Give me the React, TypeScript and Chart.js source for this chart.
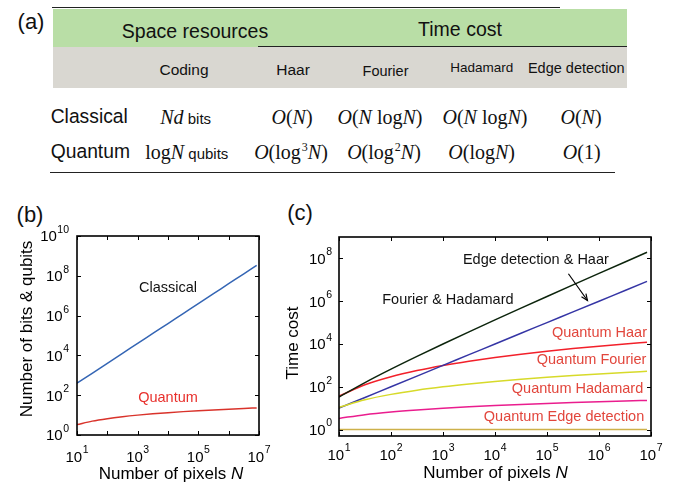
import React, { useEffect, useRef } from 'react';
import { Chart, registerables } from 'chart.js';

Chart.register(...registerables);

// ---------- data ----------
const pixelsN = [10, 31.6, 100, 316, 1000, 3162, 10000, 31623, 100000, 316228, 1000000, 3162278, 8388608];
const classicalBits = [400, 1265, 4000, 12650, 40000, 126500, 400000, 1265000, 4000000, 12650000, 40000000, 126500000, 335500000];
const quantumQubits = [3.32, 4.98, 6.64, 8.3, 9.97, 11.63, 13.29, 14.95, 16.61, 18.27, 19.93, 21.59, 23];

const classicalFourierHadamard = [33.2, 157, 664, 2626, 9966, 36780, 132900, 472800, 1661000, 5778000, 19930000, 68270000, 192900000];
const classicalEdgeHaar = [10, 31.6, 100, 316, 1000, 3162, 10000, 31623, 100000, 316228, 1000000, 3162278, 8388608];
const quantumHaar = [36.6, 123.5, 292.7, 571.8, 991, 1573, 2347, 3341, 4583, 6098, 7916, 10064, 12167];
const quantumFourier = [11, 24.8, 44.1, 68.9, 99.4, 135.3, 176.6, 223.5, 275.9, 333.8, 397.2, 466.1, 529];
const quantumHadamard = [3.32, 4.98, 6.64, 8.3, 9.97, 11.63, 13.29, 14.95, 16.61, 18.27, 19.93, 21.59, 23];
const quantumEdge = [1, 1, 1, 1, 1, 1, 1, 1, 1, 1, 1, 1, 1];

const xTicks = [10, 100, 1e3, 1e4, 1e5, 1e6, 1e7];
const xTickLabelsB = ['10^1', '', '10^3', '', '10^5', '', '10^7'];
const yTicksB = [1, 1e2, 1e4, 1e6, 1e8, 1e10];
const yTickLabelsB = ['10^0', '10^2', '10^4', '10^6', '10^8', '10^10'];
const xTickLabelsC = ['10^1', '10^2', '10^3', '10^4', '10^5', '10^6', '10^7'];
const yTicksC = [1, 1e2, 1e4, 1e6, 1e8];
const yTickLabelsC = ['10^0', '10^2', '10^4', '10^6', '10^8'];

const tableHeaders = ['Space resources', 'Time cost'];
const tableColumns = ['Coding', 'Haar', 'Fourier', 'Hadamard', 'Edge detection'];
const tableRows = ['Classical', 'Quantum'];

const SANS = '"Liberation Sans", Arial, Helvetica, sans-serif';
const SERIF = '"Liberation Serif", "Times New Roman", serif';
const LABEL_RED = '#e2463c';

// annotation text positions (log10 of data coordinates)
const annotationsB = [
  { text: 'Classical', lx: 4.0, ly: 7.37, color: '#111', align: 'center' },
  { text: 'Quantum', lx: 4.0, ly: 1.84, color: '#e8302c', align: 'center' },
];
const annotationsC = [
  { text: 'Edge detection & Haar', lx: 4.786, ly: 7.94, color: '#111', align: 'center' },
  { text: 'Fourier & Hadamard', lx: 3.094, ly: 6.033, color: '#111', align: 'center' },
  { text: 'Quantum Haar', lx: 6.923, ly: 4.535, color: LABEL_RED, align: 'right' },
  { text: 'Quantum Fourier', lx: 6.91, ly: 3.257, color: LABEL_RED, align: 'right' },
  { text: 'Quantum Hadamard', lx: 6.85, ly: 1.885, color: LABEL_RED, align: 'right' },
  { text: 'Quantum Edge detection', lx: 6.87, ly: 0.574, color: LABEL_RED, align: 'right' },
];
const arrowsC = [{ from: [5.412, 7.283], to: [5.778, 6.033] }];

type FrameCfg = {
  annotations: { text: string; lx: number; ly: number; color: string; align: string }[];
  arrows: { from: number[]; to: number[] }[];
  xTitle: { cx: number; cy: number };
  yTitle: { text: string; cx: number; cy: number };
  xLabels: string[];
  yLabels: string[];
  xLabelDrop: number;
  yLabelGap: number;
};

function drawPow(ctx: any, label: string, x: number, baseY: number, align: string) {
  if (!label) return;
  const [b, e] = label.split('^');
  const fb = `15px ${SANS}`;
  const fe = `10.5px ${SANS}`;
  ctx.font = fb;
  const wb = ctx.measureText(b).width;
  ctx.font = fe;
  const we = ctx.measureText(e || '').width;
  const total = wb + we + 0.5;
  const x0 = align === 'center' ? x - total / 2 : x - total;
  ctx.textAlign = 'left';
  ctx.textBaseline = 'alphabetic';
  ctx.fillStyle = '#000';
  ctx.font = fb;
  ctx.fillText(b, x0, baseY);
  if (e) {
    ctx.font = fe;
    ctx.fillText(e, x0 + wb + 0.5, baseY - 8.5);
  }
}

function framePlugin(cfg: FrameCfg) {
  return {
    id: 'frame',
    afterDatasetsDraw(chart: any) {
      const { ctx, chartArea: a, scales } = chart;
      const sx = scales.x;
      const sy = scales.y;
      ctx.save();
      // annotations
      ctx.font = `14.5px ${SANS}`;
      ctx.textBaseline = 'middle';
      for (const t of cfg.annotations) {
        ctx.fillStyle = t.color;
        ctx.textAlign = t.align;
        ctx.fillText(t.text, sx.getPixelForValue(Math.pow(10, t.lx)), sy.getPixelForValue(Math.pow(10, t.ly)));
      }
      // arrows
      ctx.strokeStyle = '#000';
      ctx.lineWidth = 1.2;
      for (const ar of cfg.arrows) {
        const x1 = sx.getPixelForValue(Math.pow(10, ar.from[0]));
        const y1 = sy.getPixelForValue(Math.pow(10, ar.from[1]));
        const x2 = sx.getPixelForValue(Math.pow(10, ar.to[0]));
        const y2 = sy.getPixelForValue(Math.pow(10, ar.to[1]));
        ctx.beginPath();
        ctx.moveTo(x1, y1);
        ctx.lineTo(x2, y2);
        ctx.stroke();
        const ang = Math.atan2(y2 - y1, x2 - x1);
        const L = 7;
        ctx.beginPath();
        ctx.moveTo(x2 - L * Math.cos(ang - 0.4), y2 - L * Math.sin(ang - 0.4));
        ctx.lineTo(x2, y2);
        ctx.lineTo(x2 - L * Math.cos(ang + 0.4), y2 - L * Math.sin(ang + 0.4));
        ctx.stroke();
      }
      // box
      ctx.strokeStyle = '#000';
      ctx.lineWidth = 1.6;
      ctx.strokeRect(a.left, a.top, a.right - a.left, a.bottom - a.top);
      // inward ticks
      ctx.lineWidth = 1;
      const T = 4;
      ctx.beginPath();
      for (const t of sx.ticks) {
        const p = Math.round(sx.getPixelForValue(t.value)) + 0.5;
        ctx.moveTo(p, a.bottom);
        ctx.lineTo(p, a.bottom - T);
        ctx.moveTo(p, a.top);
        ctx.lineTo(p, a.top + T);
      }
      for (const t of sy.ticks) {
        const p = Math.round(sy.getPixelForValue(t.value)) + 0.5;
        ctx.moveTo(a.left, p);
        ctx.lineTo(a.left + T, p);
        ctx.moveTo(a.right, p);
        ctx.lineTo(a.right - T, p);
      }
      ctx.stroke();
      // tick labels with superscript exponents
      sx.ticks.forEach((t: any, i: number) => {
        drawPow(ctx, cfg.xLabels[i], sx.getPixelForValue(t.value), a.bottom + cfg.xLabelDrop, 'center');
      });
      sy.ticks.forEach((t: any, i: number) => {
        drawPow(ctx, cfg.yLabels[i], a.left - cfg.yLabelGap, sy.getPixelForValue(t.value) + 5.4, 'right');
      });
      // x title with italic N
      ctx.fillStyle = '#000';
      ctx.textAlign = 'left';
      ctx.textBaseline = 'middle';
      const normal = `17px ${SANS}`;
      const italic = `italic 17px ${SANS}`;
      ctx.font = normal;
      const part1 = 'Number of pixels ';
      const w1 = ctx.measureText(part1).width;
      ctx.font = italic;
      const w2 = ctx.measureText('N').width;
      const start = cfg.xTitle.cx - (w1 + w2) / 2;
      ctx.font = normal;
      ctx.fillText(part1, start, cfg.xTitle.cy);
      ctx.font = italic;
      ctx.fillText('N', start + w1, cfg.xTitle.cy);
      // y title
      ctx.font = normal;
      ctx.textAlign = 'center';
      ctx.translate(cfg.yTitle.cx, cfg.yTitle.cy);
      ctx.rotate(-Math.PI / 2);
      ctx.fillText(cfg.yTitle.text, 0, 0);
      ctx.restore();
    },
  };
}

function makeConfig(p: {
  datasets: any[];
  yTicks: number[];
  yMin: number;
  yMax: number;
  yWidth: number;
  xHeight: number;
  padding: any;
  frame: FrameCfg;
}): any {
  return {
    type: 'line',
    data: { datasets: p.datasets },
    options: {
      animation: false,
      responsive: false,
      devicePixelRatio: 1,
      layout: { padding: p.padding },
      plugins: { legend: { display: false }, tooltip: { enabled: false } },
      elements: { point: { radius: 0 }, line: { borderWidth: 1.5, cubicInterpolationMode: 'monotone' } },
      scales: {
        x: {
          type: 'logarithmic',
          min: 10,
          max: 1e7,
          bounds: 'data',
          afterBuildTicks: (s: any) => {
            s.ticks = xTicks.map((v) => ({ value: v }));
          },
          afterFit: (s: any) => {
            s.height = p.xHeight;
          },
          grid: { display: false, drawTicks: false },
          border: { display: false },
          ticks: { display: false, autoSkip: false },
        },
        y: {
          type: 'logarithmic',
          min: p.yMin,
          max: p.yMax,
          bounds: 'data',
          afterBuildTicks: (s: any) => {
            s.ticks = p.yTicks.map((v) => ({ value: v }));
          },
          afterFit: (s: any) => {
            s.width = p.yWidth;
          },
          grid: { display: false, drawTicks: false },
          border: { display: false },
          ticks: { display: false, autoSkip: false },
        },
      },
    },
    plugins: [framePlugin(p.frame)],
  };
}

const pts = (ys: number[]) => pixelsN.map((x, i) => ({ x, y: ys[i] }));

function configB() {
  return makeConfig({
    datasets: [
      { label: 'Classical', data: pts(classicalBits), borderColor: '#3465b4' },
      { label: 'Quantum', data: pts(quantumQubits), borderColor: '#d9332b' },
    ],
    yTicks: yTicksB,
    yMin: 1,
    yMax: 1e10,
    yWidth: 77,
    xHeight: 50,
    padding: { top: 46, right: 16, bottom: 0, left: 0 },
    frame: {
      annotations: annotationsB,
      arrows: [],
      xTitle: { cx: 171, cy: 284 },
      yTitle: { text: 'Number of bits & qubits', cx: 27, cy: 139 },
      xLabels: xTickLabelsB,
      yLabels: yTickLabelsB,
      xLabelDrop: 26.5,
      yLabelGap: 8,
    },
  });
}

function configC() {
  return makeConfig({
    datasets: [
      { label: 'Quantum Edge detection', data: pts(quantumEdge), borderColor: '#cdb14a' },
      { label: 'Quantum Hadamard', data: pts(quantumHadamard), borderColor: '#ea1d8e' },
      { label: 'Quantum Fourier', data: pts(quantumFourier), borderColor: '#d7da2a' },
      { label: 'Fourier & Hadamard', data: pts(classicalFourierHadamard), borderColor: '#0c240c' },
      { label: 'Edge detection & Haar', data: pts(classicalEdgeHaar), borderColor: '#3535a5' },
      { label: 'Quantum Haar', data: pts(quantumHaar), borderColor: '#f2202a' },
    ],
    yTicks: yTicksC,
    yMin: 0.5,
    yMax: 1e9,
    yWidth: 59,
    xHeight: 49,
    padding: { top: 47, right: 24, bottom: 0, left: 0 },
    frame: {
      annotations: annotationsC,
      arrows: arrowsC,
      xTitle: { cx: 215.5, cy: 283 },
      yTitle: { text: 'Time cost', cx: 13, cy: 153 },
      xLabels: xTickLabelsC,
      yLabels: yTickLabelsC,
      xLabelDrop: 23.5,
      yLabelGap: 7,
    },
  });
}

function ChartCanvas(props: { make: () => any; left: number; top: number; width: number; height: number }) {
  const ref = useRef<HTMLCanvasElement>(null);
  useEffect(() => {
    const chart = new Chart(ref.current as HTMLCanvasElement, props.make());
    return () => chart.destroy();
  }, []);
  return (
    <canvas
      ref={ref}
      width={props.width}
      height={props.height}
      style={{ position: 'absolute', left: props.left, top: props.top, width: props.width, height: props.height }}
    />
  );
}

function Txt(props: { x: number; y: number; size: number; family?: string; left?: boolean; children: any; color?: string }) {
  return (
    <div
      style={{
        position: 'absolute',
        left: props.x,
        top: props.y,
        transform: props.left ? 'translate(0,-50%)' : 'translate(-50%,-50%)',
        fontSize: props.size,
        fontFamily: props.family || SANS,
        whiteSpace: 'nowrap',
        lineHeight: 1,
        color: props.color || '#111',
      }}
    >
      {props.children}
    </div>
  );
}

const Sup = (p: { children: any }) => (
  <span style={{ fontSize: 12, position: 'relative', top: -8, marginLeft: 1 }}>{p.children}</span>
);
const Rect = (p: { x: number; y: number; w: number; h: number; c: string }) => (
  <div style={{ position: 'absolute', left: p.x, top: p.y, width: p.w, height: p.h, background: p.c }} />
);

export default function App() {
  const mathSize = 20;
  return (
    <div style={{ position: 'absolute', left: 0, top: 0, width: 675, height: 485, background: '#fff', overflow: 'hidden' }}>
      {/* (a) table */}
      <Rect x={53} y={8.5} w={574} h={38} c="#b9dea6" />
      <Rect x={53} y={46.5} w={574} h={41.5} c="#d9d7d1" />
      <Rect x={52} y={6.5} w={508} h={1.6} c="#222" />
      <Rect x={258} y={45.5} w={369} h={1.6} c="#222" />
      <Rect x={50} y={171.5} w={565} h={1.6} c="#222" />
      <Txt x={31} y={22} size={22}>(a)</Txt>
      <Txt x={195} y={31.5} size={19.5}>{tableHeaders[0]}</Txt>
      <Txt x={460} y={30} size={19.5}>{tableHeaders[1]}</Txt>
      <Txt x={184} y={70} size={15.5}>{tableColumns[0]}</Txt>
      <Txt x={293} y={70} size={15.5}>{tableColumns[1]}</Txt>
      <Txt x={385.5} y={71} size={14.5}>{tableColumns[2]}</Txt>
      <Txt x={481.7} y={68} size={13.5}>{tableColumns[3]}</Txt>
      <Txt x={576.3} y={68} size={14.5}>{tableColumns[4]}</Txt>
      <Txt x={50.7} y={116.7} size={19.3} left>{tableRows[0]}</Txt>
      <Txt x={50.7} y={151.7} size={19.3} left>{tableRows[1]}</Txt>

      <Txt x={185.7} y={116.7} size={mathSize} family={SERIF}>
        <i>Nd</i>
        <span style={{ fontFamily: SANS, fontSize: 15 }}> bits</span>
      </Txt>
      <Txt x={292} y={116.7} size={mathSize} family={SERIF}>
        <i>O</i>(<i>N</i>)
      </Txt>
      <Txt x={380} y={116.7} size={mathSize} family={SERIF}>
        <i>O</i>(<i>N</i> log<i>N</i>)
      </Txt>
      <Txt x={485} y={116.7} size={mathSize} family={SERIF}>
        <i>O</i>(<i>N</i> log<i>N</i>)
      </Txt>
      <Txt x={581} y={116.7} size={mathSize} family={SERIF}>
        <i>O</i>(<i>N</i>)
      </Txt>

      <Txt x={186.8} y={151.7} size={mathSize} family={SERIF}>
        log<i>N</i>
        <span style={{ fontFamily: SANS, fontSize: 15 }}> qubits</span>
      </Txt>
      <Txt x={291} y={151.7} size={mathSize} family={SERIF}>
        <i>O</i>(log<Sup>3</Sup><i>N</i>)
      </Txt>
      <Txt x={384} y={151.7} size={mathSize} family={SERIF}>
        <i>O</i>(log<Sup>2</Sup><i>N</i>)
      </Txt>
      <Txt x={481.7} y={151.7} size={mathSize} family={SERIF}>
        <i>O</i>(log<i>N</i>)
      </Txt>
      <Txt x={581.7} y={151.7} size={mathSize} family={SERIF}>
        <i>O</i>(1)
      </Txt>

      {/* (b) and (c) */}
      <Txt x={30} y={215} size={22}>(b)</Txt>
      <Txt x={300} y={213.3} size={22}>(c)</Txt>
      <ChartCanvas make={configB} left={0} top={190} width={275} height={295} />
      <ChartCanvas make={configC} left={280} top={190} width={395} height={295} />
    </div>
  );
}
